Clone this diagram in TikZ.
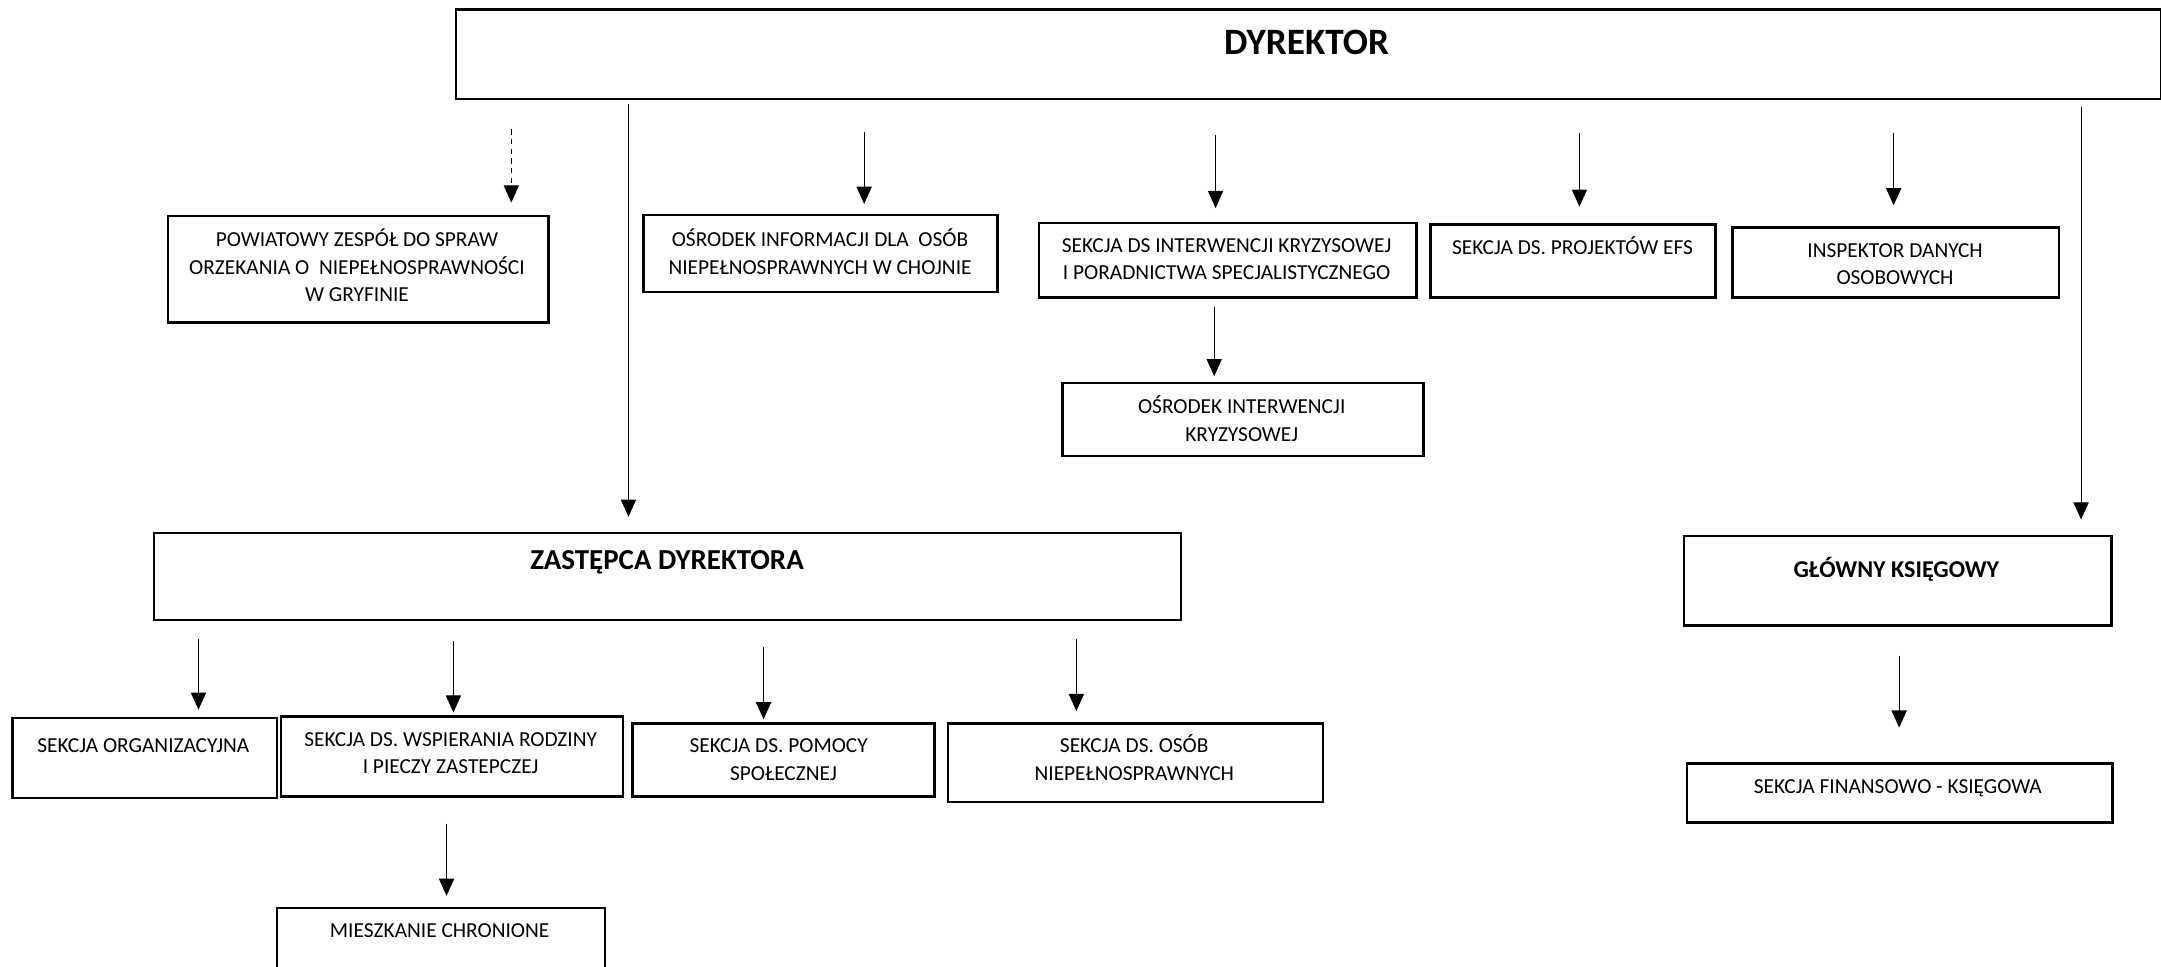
\documentclass[tikz,border=0pt]{standalone}
\usepackage{fontspec}
\setmainfont{Carlito}
\usetikzlibrary{arrows.meta,calc}
\newcommand\obox[5]{\node[boxst, anchor=north west, minimum width={(#4-#2)*1pt}, minimum height={(#5-#3)*1pt}] (#1) at (#2,#3) {};}
\newcommand\conn[6]{\path (#4,0) coordinate (cx);
  \draw[arr,#1] ($(#2.south -| cx)+(0,#5)$) -- ($(#3.north -| cx)+(0,-#6)$);}
\begin{document}
\begin{tikzpicture}[x=1pt,y=-1pt,
  boxst/.style={draw, line width=1.8pt, inner sep=0pt},
  txt/.style={font=\fontsize{15.5}{20}\selectfont, align=center, inner sep=0pt},
  ttl/.style={font=\bfseries\fontsize{#1}{#1}\selectfont, inner sep=0pt},
  arr/.style={line width=0.8pt, -{Triangle[width=11pt,length=12.5pt]}}]
\useasboundingbox (0,0) rectangle (1568,701);
\clip (0,0) rectangle (1568,701);
% boxes
\obox{dyr}{330}{6}{1567}{71}
\obox{pow}{121}{156}{397}{233}
\obox{oin}{466}{155}{723}{211}
\obox{sik}{753}{161}{1027}{215}
\obox{efs}{1037}{162}{1244}{215}
\obox{ido}{1256}{164}{1493}{215}
\obox{oik}{770}{277}{1032}{330}
\obox{zas}{111}{386}{856}{449}
\obox{glk}{1221}{388}{1531}{453}
\obox{sor}{8}{520}{200}{578}
\obox{swr}{203}{519}{451}{577}
\obox{spo}{458}{524}{677}{577}
\obox{son}{687}{524}{959}{581}
\obox{mch}{200}{658}{438}{712}
\obox{sfk}{1223}{553}{1532}{596}
% texts
\node[ttl=27] (dyrt) at (948,31) {DYREKTOR};
\node[txt] (powt) at (259,195) {\strut POWIATOWY ZESPÓŁ DO SPRAW\\ORZEKANIA O\ \ NIEPEŁNOSPRAWNOŚCI\\W GRYFINIE\strut};
\node[txt] (oint) at (595,185) {\strut OŚRODEK INFORMACJI DLA\ \ OSÓB\\NIEPEŁNOSPRAWNYCH W CHOJNIE\strut};
\node[txt] (sikt) at (890,189) {\strut SEKCJA DS INTERWENCJI KRYZYSOWEJ\\I PORADNICTWA SPECJALISTYCZNEGO\strut};
\node[txt] (efst) at (1141,181) {\strut SEKCJA DS. PROJEKTÓW EFS\strut};
\node[txt] (idot) at (1375,192.5) {\strut INSPEKTOR DANYCH\\OSOBOWYCH\strut};
\node[txt] (oikt) at (901,306) {\strut OŚRODEK INTERWENCJI\\KRYZYSOWEJ\strut};
\node[ttl=21] (zast) at (484,408) {ZASTĘPCA DYREKTORA};
\node[ttl=17.5] (glkt) at (1376,413) {GŁÓWNY KSIĘGOWY};
\node[txt] (sort) at (104,542) {\strut SEKCJA ORGANIZACYJNA\strut};
\node[txt] (swrt) at (327,547.5) {\strut SEKCJA DS. WSPIERANIA RODZINY\\I PIECZY ZASTEPCZEJ\strut};
\node[txt] (spot) at (565,552) {\strut SEKCJA DS. POMOCY\\\ \ SPOŁECZNEJ\strut};
\node[txt] (sont) at (823,552) {\strut SEKCJA DS. OSÓB\\NIEPEŁNOSPRAWNYCH\strut};
\node[txt] (mcht) at (319,676) {\strut MIESZKANIE CHRONIONE\strut};
\node[txt] (sfkt) at (1377,572) {\strut SEKCJA FINANSOWO - KSIĘGOWA\strut};
% connectors
\conn{dash pattern=on 4pt off 3pt}{dyr}{pow}{371}{21}{9}
\conn{}{dyr}{zas}{456}{3}{11}
\conn{}{dyr}{oin}{627}{23}{7}
\conn{}{dyr}{sik}{882}{25}{10}
\conn{}{dyr}{efs}{1146}{24}{12}
\conn{}{dyr}{ido}{1374}{24}{15}
\conn{}{dyr}{glk}{1510}{5}{11}
\conn{}{sik}{oik}{881}{6}{4}
\conn{}{zas}{sor}{144}{13}{5}
\conn{}{zas}{swr}{329}{14}{2}
\conn{}{zas}{spo}{554}{19}{2}
\conn{}{zas}{son}{781}{13}{8}
\conn{}{swr}{mch}{324}{19}{8}
\conn{}{glk}{sfk}{1378}{21}{25}
\end{tikzpicture}
\end{document}
